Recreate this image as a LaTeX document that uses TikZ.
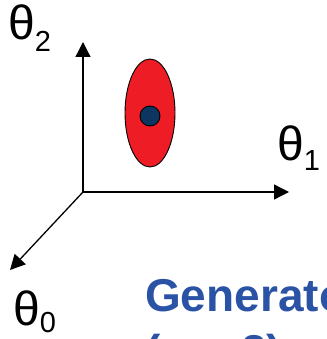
\documentclass[tikz,border=0pt]{standalone}
\usepackage{fontspec}
\setmainfont{Liberation Sans}
\usetikzlibrary{arrows.meta,positioning,shapes.geometric}
\definecolor{blobred}{HTML}{EE1C25}
\definecolor{dotnavy}{HTML}{0D3562}
\definecolor{titleblue}{HTML}{2A52A5}

\begin{document}
\begin{tikzpicture}[
  x=1pt, y=-1pt,
  axis/.style={-{Triangle[length=15pt,width=15pt]}, line width=1.3pt},
  lab/.style={inner sep=0pt, anchor=base west, font=\fontsize{48}{48}\selectfont},
]
  \useasboundingbox (0,0) rectangle (326,339);
  \clip (0,0) rectangle (326,339);

  % Axes
  \coordinate (o) at (83,192);
  \coordinate (up) at (83,42);
  \coordinate (rt) at (289,192);
  \coordinate (dl) at (10,270);
  \draw[axis] (o) -- (up);
  \draw[axis] (o) -- (rt);
  \draw[axis] (o) -- (dl);

  % Labels
  \node[lab] (th2) at (8,40) {θ\raisebox{-12pt}{\fontsize{29}{29}\selectfont 2}};
  \node[lab] (th1) at (277,160) {θ\raisebox{-10pt}{\fontsize{29}{29}\selectfont 1}};
  \node[lab] (th0) at (13,325) {θ\raisebox{-7pt}{\fontsize{29}{29}\selectfont 0}};

  % Blob and estimate
  \node[draw, line width=0.9pt, fill=blobred, ellipse, inner sep=0pt,
        minimum width=50pt, minimum height=108pt] (blob) at (150,113) {};
  \node[draw, line width=0.9pt, fill=dotnavy, circle, inner sep=0pt,
        minimum size=20pt] (est) at (150,116) {};

  % Caption (cut by the frame)
  \node[inner sep=0pt, anchor=base west, align=left, text=titleblue,
        font=\fontsize{46}{56}\selectfont\bfseries] (cap) at (145,367)
        {Generator\\(n = 2)};
\end{tikzpicture}
\end{document}
